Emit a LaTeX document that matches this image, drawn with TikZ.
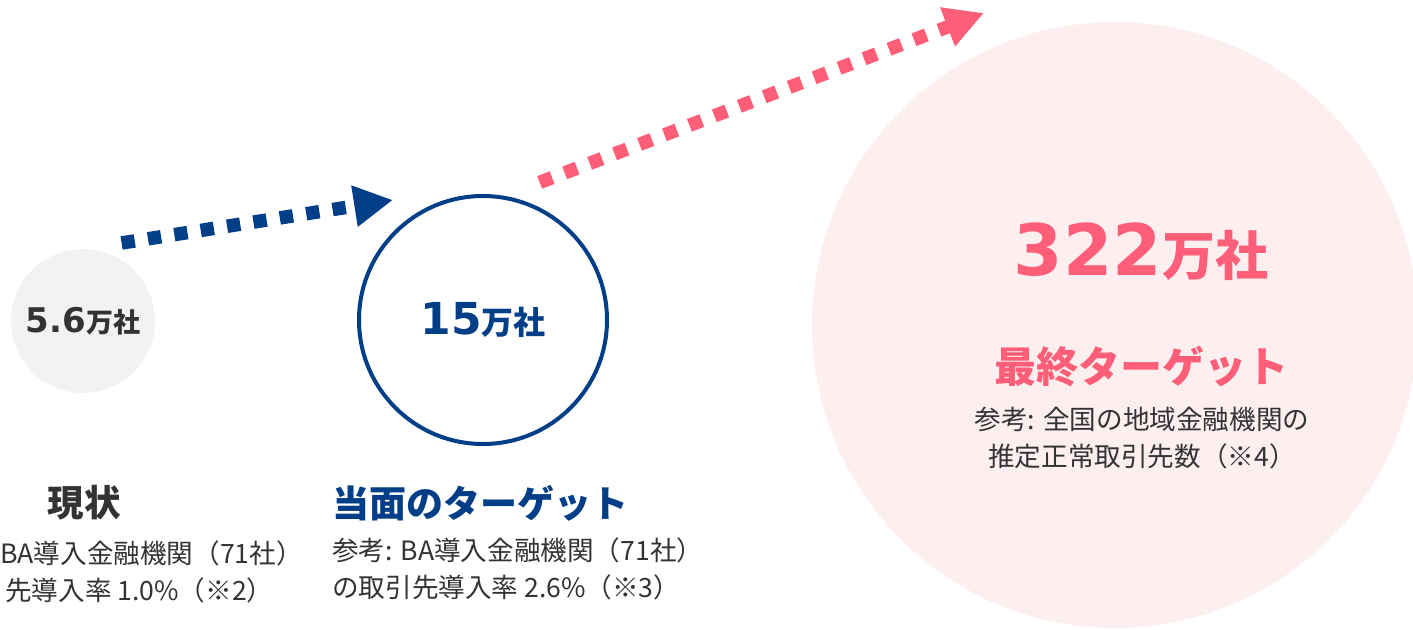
\documentclass[tikz,border=0pt]{standalone}
\usepackage{fontspec}
\setmainfont{Noto Sans CJK JP}
\newfontfamily\zahlfont{DejaVu Sans}
\usetikzlibrary{arrows.meta,positioning}
\definecolor{dunkelblau}{RGB}{0,62,135}
\definecolor{rosa}{RGB}{255,94,120}
\definecolor{hellrosa}{RGB}{253,238,240}
\definecolor{hellgrau}{RGB}{242,242,242}
\definecolor{textgrau}{RGB}{51,51,51}
\tikzset{
  kreis/.style={circle, inner sep=0pt},
  punktpfeil/.style={line width=13.5pt, dash pattern=on 13.3pt off 13.4pt, -{Triangle[length=39pt,width=39pt]}},
  fliesstext/.style={inner sep=0pt, font=\fontsize{26.6}{37}\selectfont, text=textgrau},
}
\begin{document}
\begin{tikzpicture}[x=1pt,y=-1pt]
\useasboundingbox (0,0) rectangle (1413,629);
%Kreise
\node[kreis, fill=hellrosa, minimum size=606pt] (ziel) at (1115,325) {};
\node[kreis, fill=hellgrau, minimum size=144pt, text=textgrau] (jetzt) at (83,321)
  {{\zahlfont\bfseries\fontsize{34}{34}\selectfont 5.6}{\bfseries\fontsize{27}{27}\selectfont 万社}};
\node[kreis, draw=dunkelblau, line width=4pt, minimum size=248pt, text=dunkelblau] (mitte) at (483,320)
  {{\zahlfont\bfseries\fontsize{44}{44}\selectfont 15}{\bfseries\fontsize{32}{32}\selectfont 万社}};
%Pfeile
\coordinate (blauA) at (121.6,243);
\coordinate (blauB) at (393,200);
\coordinate (rosaA) at (539.7,182.4);
\coordinate (rosaB) at (984,13);
\draw[punktpfeil, dunkelblau] (blauA) -- (blauB);
\draw[punktpfeil, rosa] (rosaA) -- (rosaB);
%Texte rechts
\node[inner sep=0pt, text=rosa] (zahlziel) at (1141,252)
  {{\zahlfont\bfseries\fontsize{71}{71}\selectfont 322}{\bfseries\fontsize{53}{53}\selectfont 万社}};
\node[inner sep=0pt, text=rosa, font=\bfseries\fontsize{42}{42}\selectfont] (endziel) at (1141,367) {最終ターゲット};
\node[fliesstext, align=center, anchor=north] (endtext) at (1142,407) {参考: 全国の地域金融機関の\\推定正常取引先数（※4）};
%Texte links und mitte
\node[inner sep=0pt, text=textgrau, font=\bfseries\fontsize{36.5}{36.5}\selectfont] (jetzttitel) at (84,503) {現状};
\node[fliesstext, anchor=west] (jetztzeile1) at (0,553) {BA導入金融機関（71社）};
\node[fliesstext, anchor=west] (jetztzeile2) at (5,590) {先導入率 1.0\%（※2）};
\node[inner sep=0pt, text=dunkelblau, font=\bfseries\fontsize{37}{37}\selectfont] (mittetitel) at (480,503) {当面のターゲット};
\node[fliesstext, align=left, anchor=north west] (mittetext) at (332,538) {参考: BA導入金融機関（71社）\\の取引先導入率 2.6\%（※3）};
\end{tikzpicture}
\end{document}
